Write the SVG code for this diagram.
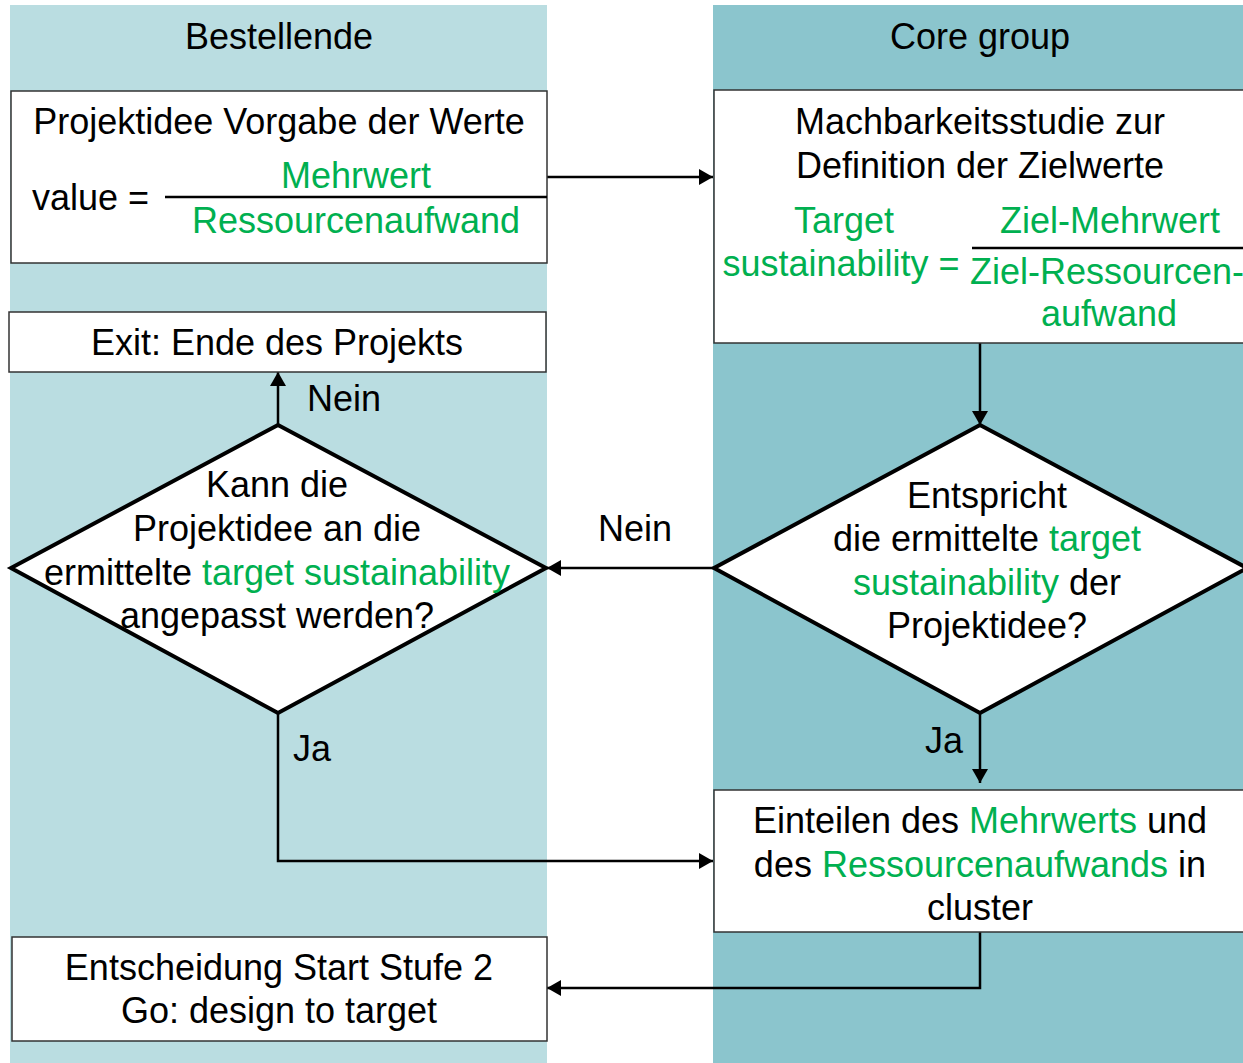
<svg xmlns="http://www.w3.org/2000/svg" width="1243" height="1063" viewBox="0 0 1243 1063">
<style>
text{font-family:"Liberation Sans",Arial,sans-serif;font-size:36px;fill:#000;text-anchor:middle}
.g{fill:#00B050}
.l{text-anchor:start}
.box{fill:#fff;stroke:#333;stroke-width:1.5}
.dia{fill:#fff;stroke:#000;stroke-width:4;stroke-linejoin:miter}
.c{fill:none;stroke:#000;stroke-width:2.5}
.frac{stroke:#000;stroke-width:2.5}
</style>
<defs>
<marker id="ah" viewBox="0 0 14 16" refX="14" refY="8" markerWidth="14" markerHeight="16" markerUnits="userSpaceOnUse" orient="auto">
<path d="M0,0 L14,8 L0,16 Z" fill="#000"/>
</marker>
</defs>
<rect width="1243" height="1063" fill="#fff"/>
<g id="lane-bestellende">
<rect x="10" y="5" width="537" height="1058" fill="#BADDE1"/>
<text x="279" y="49">Bestellende</text>
</g>
<g id="lane-core">
<rect x="713" y="5" width="530" height="1058" fill="#8BC5CD"/>
<text x="980" y="49">Core group</text>
</g>
<g id="connectors">
<path class="c" d="M547,177 H713" marker-end="url(#ah)"/>
<path class="c" d="M980,343 V425" marker-end="url(#ah)"/>
<path class="c" d="M713,568 H547" marker-end="url(#ah)"/>
<path class="c" d="M278,425 V372" marker-end="url(#ah)"/>
<path class="c" d="M980,713 V783" marker-end="url(#ah)"/>
<path class="c" d="M278,713 V861 H713" marker-end="url(#ah)"/>
<path class="c" d="M980,932 V988 H547" marker-end="url(#ah)"/>
<text class="l" x="307" y="411">Nein</text>
<text class="l" x="598" y="541">Nein</text>
<text class="l" x="925" y="753">Ja</text>
<text class="l" x="293" y="761">Ja</text>
</g>
<g id="projektidee">
<rect class="box" x="11" y="91" width="536" height="172"/>
<text x="279" y="134">Projektidee Vorgabe der Werte</text>
<text class="l" x="32" y="210">value =</text>
<text class="g" x="356" y="188">Mehrwert</text>
<line class="frac" x1="165" y1="197" x2="547" y2="197"/>
<text class="g" x="356" y="233">Ressourcenaufwand</text>
</g>
<g id="machbarkeitsstudie">
<rect class="box" x="714" y="90" width="535" height="253"/>
<text x="980" y="134">Machbarkeitsstudie zur</text>
<text x="980" y="178">Definition der Zielwerte</text>
<text class="g" x="844" y="233">Target</text>
<text class="g" x="841" y="276">sustainability =</text>
<text class="g" x="1110" y="233">Ziel-Mehrwert</text>
<line class="frac" x1="972" y1="248" x2="1243" y2="248"/>
<text class="g" x="1107" y="284" font-size="35">Ziel-Ressourcen-</text>
<text class="g" x="1109" y="326">aufwand</text>
</g>
<g id="exit">
<rect class="box" x="9" y="312" width="537" height="60"/>
<text x="277" y="355">Exit: Ende des Projekts</text>
</g>
<g id="entscheidung-anpassen">
<polygon class="dia" points="278,425 546,568 278,713 11,568"/>
<text x="277" y="497">Kann die</text>
<text x="277" y="541">Projektidee an die</text>
<text x="277" y="585">ermittelte <tspan class="g">target sustainability</tspan></text>
<text x="277" y="628">angepasst werden?</text>
</g>
<g id="entscheidung-entspricht">
<polygon class="dia" points="980,425 1247,568 980,713 714,568"/>
<text x="987" y="508">Entspricht</text>
<text x="987" y="551">die ermittelte <tspan class="g">target</tspan></text>
<text x="987" y="595"><tspan class="g">sustainability</tspan> der</text>
<text x="987" y="638">Projektidee?</text>
</g>
<g id="einteilen">
<rect class="box" x="714" y="790" width="535" height="142"/>
<text x="980" y="833">Einteilen des <tspan class="g">Mehrwerts</tspan> und</text>
<text x="980" y="877">des <tspan class="g">Ressourcenaufwands</tspan> in</text>
<text x="980" y="920">cluster</text>
</g>
<g id="start-stufe-2">
<rect class="box" x="12" y="937" width="535" height="104"/>
<text x="279" y="980">Entscheidung Start Stufe 2</text>
<text x="279" y="1023">Go: design to target</text>
</g>
</svg>
